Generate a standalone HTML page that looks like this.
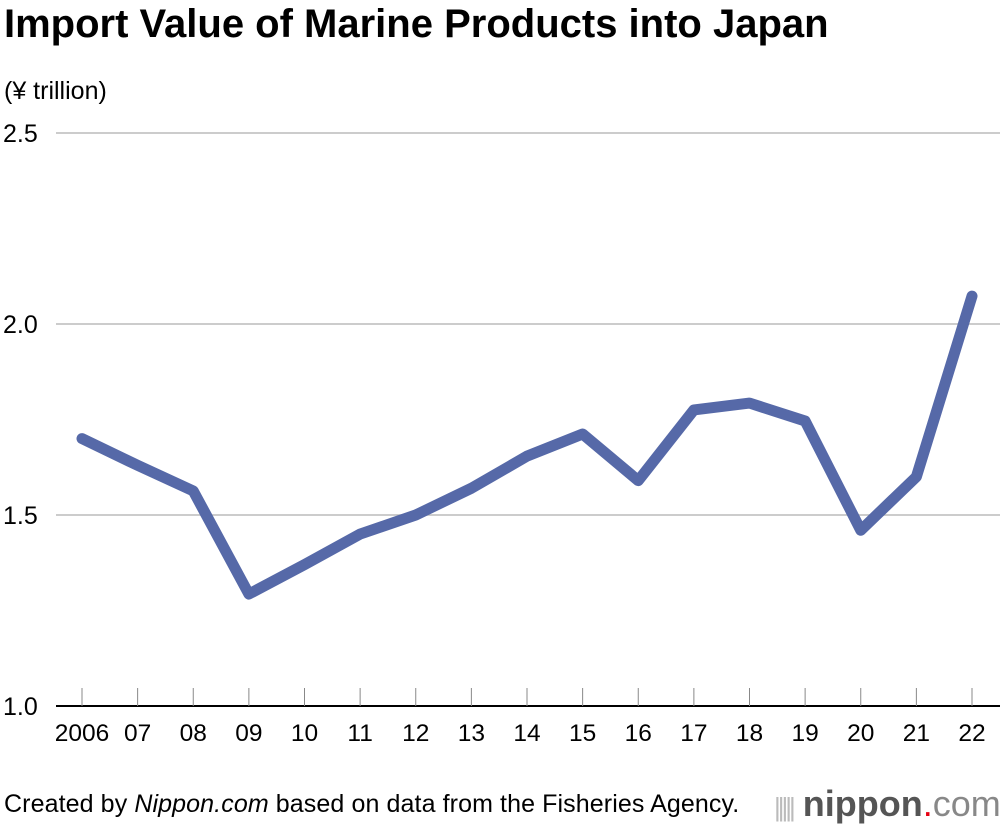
<!DOCTYPE html>
<html><head><meta charset="utf-8"><style>
body{margin:0;width:1000px;height:826px;background:#fff;font-family:"Liberation Sans",sans-serif;position:relative;overflow:hidden}
.t{position:absolute;white-space:nowrap;color:#000}
</style></head><body>
<div class="t" style="left:4px;top:2px;font-size:40px;font-weight:bold;letter-spacing:0px">Import Value of Marine Products into Japan</div>
<div class="t" style="left:4px;top:77px;font-size:25px">(¥ trillion)</div>
<svg id="c" width="1000" height="826" style="position:absolute;left:0;top:0"></svg>
<div class="t" style="left:4px;top:790px;font-size:25px;letter-spacing:0.1px">Created by <i>Nippon.com</i> based on data from the Fisheries Agency.</div>
<div class="t" style="left:774px;top:783px;font-size:36px;color:#666"><span style="color:#bbb;font-size:26px;letter-spacing:-3px">|||||</span> <span style="color:#555;font-weight:bold">nippon</span><span style="color:#e60012">.</span><span style="color:#888">com</span></div>
<script>
const years=["2006","07","08","09","10","11","12","13","14","15","16","17","18","19","20","21","22"];
const values=[1.70,1.63,1.563,1.293,1.37,1.45,1.50,1.57,1.654,1.712,1.59,1.775,1.793,1.746,1.46,1.60,2.073];
const yTicks=[1.0,1.5,2.0,2.5];
const NS="http://www.w3.org/2000/svg";
const svg=document.getElementById('c');
const x=i=>82+i*(890/16);
const y=v=>706-(v-1.0)*382;
function mk(t,a){const e=document.createElementNS(NS,t);for(const k in a)e.setAttribute(k,a[k]);svg.appendChild(e);return e;}
yTicks.forEach(v=>{
  if(v>1.0){const g=mk('line',{x1:56,x2:1000,y1:y(v),y2:y(v),stroke:'#bbb','stroke-width':1.5});
  
  }
  const t=mk('text',{x:3,y:y(v)+9,'font-size':25,'font-family':'Liberation Sans'});
  t.textContent=v.toFixed(1);
  
  
});
const ax=mk('line',{x1:56,x2:1000,y1:706,y2:706,stroke:'#000','stroke-width':2});


years.forEach((yr,i)=>{
  const tk=mk('line',{x1:x(i),x2:x(i),y1:688,y2:706,stroke:'#888','stroke-width':1});
  
  
  const t=mk('text',{x:x(i),y:741,'font-size':24.5,'text-anchor':'middle','font-family':'Liberation Sans'});
  t.textContent=yr;
  
  
});
const pl=mk('polyline',{points:values.map((v,i)=>x(i)+','+y(v)).join(' '),fill:'none',stroke:'#5669a8','stroke-width':11,'stroke-linejoin':'round','stroke-linecap':'round'});


</script>
</body></html>
